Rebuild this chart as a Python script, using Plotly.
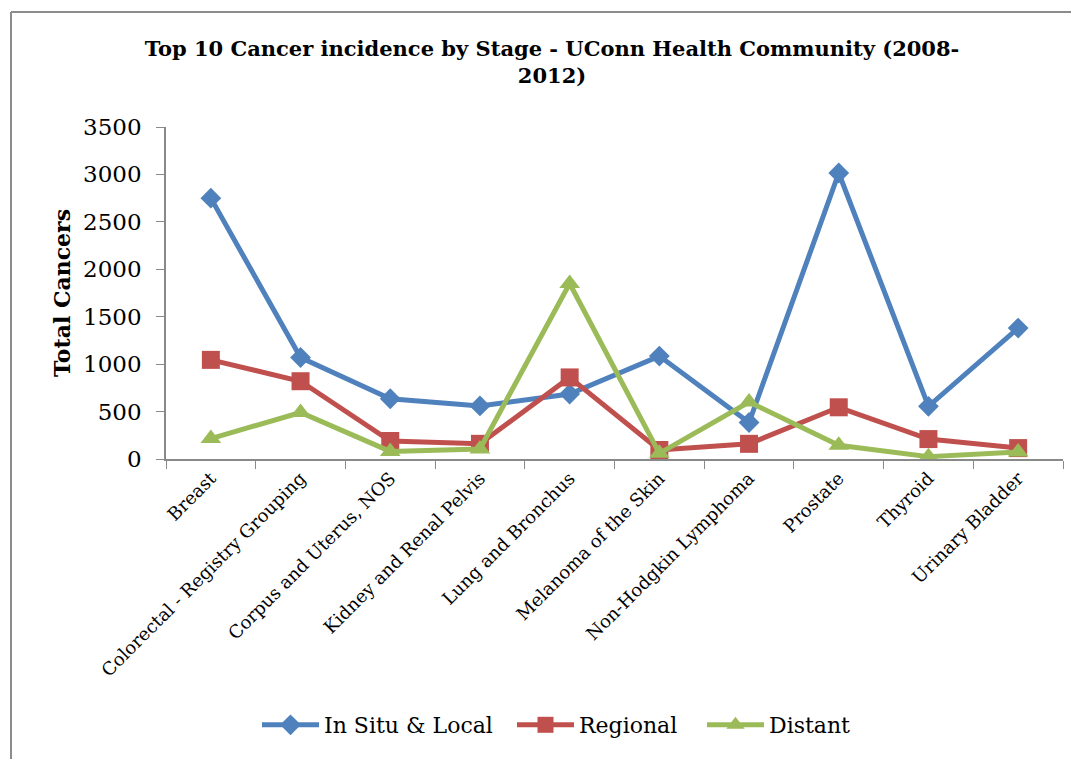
import plotly.graph_objects as go

categories = ["Breast", "Colorectal - Registry Grouping", "Corpus and Uterus, NOS",
              "Kidney and Renal Pelvis", "Lung and Bronchus", "Melanoma of the Skin",
              "Non-Hodgkin Lymphoma", "Prostate", "Thyroid", "Urinary Bladder"]
in_situ_local = [2750, 1070, 635, 560, 685, 1085, 385, 3015, 555, 1380]
regional = [1045, 820, 190, 160, 860, 95, 160, 545, 210, 115]
distant = [215, 490, 80, 105, 1850, 60, 600, 145, 25, 75]
y_ticks = [0, 500, 1000, 1500, 2000, 2500, 3000, 3500]
series_names = ["In Situ & Local", "Regional", "Distant"]

FONT = "DejaVu Serif"
OFF = 8  # page body margin: the figure sits at (8, 8)
W, H = 1079 - OFF, 759 - OFF
L, T, R = 166 - OFF, 127 - OFF, 16
pw, ph = W - L - R, 332
B = H - T - ph

styles = [
    ("#4F81BD", "diamond", 16, "legend", 257),
    ("#C0504D", "square", 18, "legend2", 512),
    ("#9BBB59", "triangle-up", 18, "legend3", 702),
]
values = [in_situ_local, regional, distant]

fig = go.Figure()
legends = {}
for name, vals, (color, sym, size, lg, lx) in zip(series_names, values, styles):
    fig.add_trace(go.Scatter(
        x=categories, y=vals, name=name, mode="lines+markers",
        line=dict(color=color, width=5),
        marker=dict(symbol=sym, size=size, color=color),
        legend=lg,
    ))
    legends[lg] = dict(
        orientation="h", x=(lx - OFF) / W, xanchor="left", xref="container",
        y=1 - (725 - OFF) / H, yanchor="middle", yref="container",
        font=dict(family=FONT, size=22, color="black"),
        itemwidth=57, bgcolor="rgba(0,0,0,0)",
    )

# chart border (top and left edges are visible; right/bottom lie outside the picture)
bx0 = (11 - OFF - L) / pw
bx1 = (W + 60 - L) / pw
by0 = (T + ph - (H + 60)) / ph
by1 = (T + ph - (12 - OFF)) / ph
border = dict(color="#8C8C8C", width=2)

fig.update_layout(
    width=W, height=H,
    margin=dict(l=L, r=R, t=T, b=B),
    paper_bgcolor="white", plot_bgcolor="white",
    font=dict(family=FONT, color="black"),
    title=dict(
        text="<b>Top 10 Cancer incidence by Stage - UConn Health Community (2008-<br>2012)</b>",
        x=(552 - OFF) / W, xanchor="center", y=1 - (56 - OFF) / H, yanchor="middle",
        font=dict(family=FONT, size=21, color="black"),
    ),
    showlegend=True,
    **legends,
    xaxis=dict(
        type="category", range=[-0.5, 9.5],
        tickson="boundaries", ticks="outside", ticklen=8, tickcolor="#898989",
        showline=True, linecolor="#898989", linewidth=1.5,
        showgrid=False, tickangle=-45,
        tickfont=dict(family=FONT, size=18, color="black"),
    ),
    yaxis=dict(
        range=[0, 3500], tickvals=y_ticks, ticks="outside", ticklen=8,
        tickcolor="#898989", showline=True, linecolor="#898989", linewidth=1.5,
        showgrid=False, zeroline=False, ticklabelstandoff=10,
        tickfont=dict(family=FONT, size=23, color="black"),
        title=dict(text="<b>Total Cancers</b>", standoff=6,
                   font=dict(family=FONT, size=22, color="black")),
    ),
    shapes=[
        dict(type="line", xref="paper", yref="paper", x0=bx0, x1=bx1, y0=by1, y1=by1,
             line=border, layer="below"),
        dict(type="line", xref="paper", yref="paper", x0=bx0, x1=bx0, y0=by0, y1=by1,
             line=border, layer="below"),
    ],
)

fig.write_html(
    "out.html",
    post_script="document.documentElement.style.overflow='hidden';"
                "document.body.style.overflow='hidden';",
)
